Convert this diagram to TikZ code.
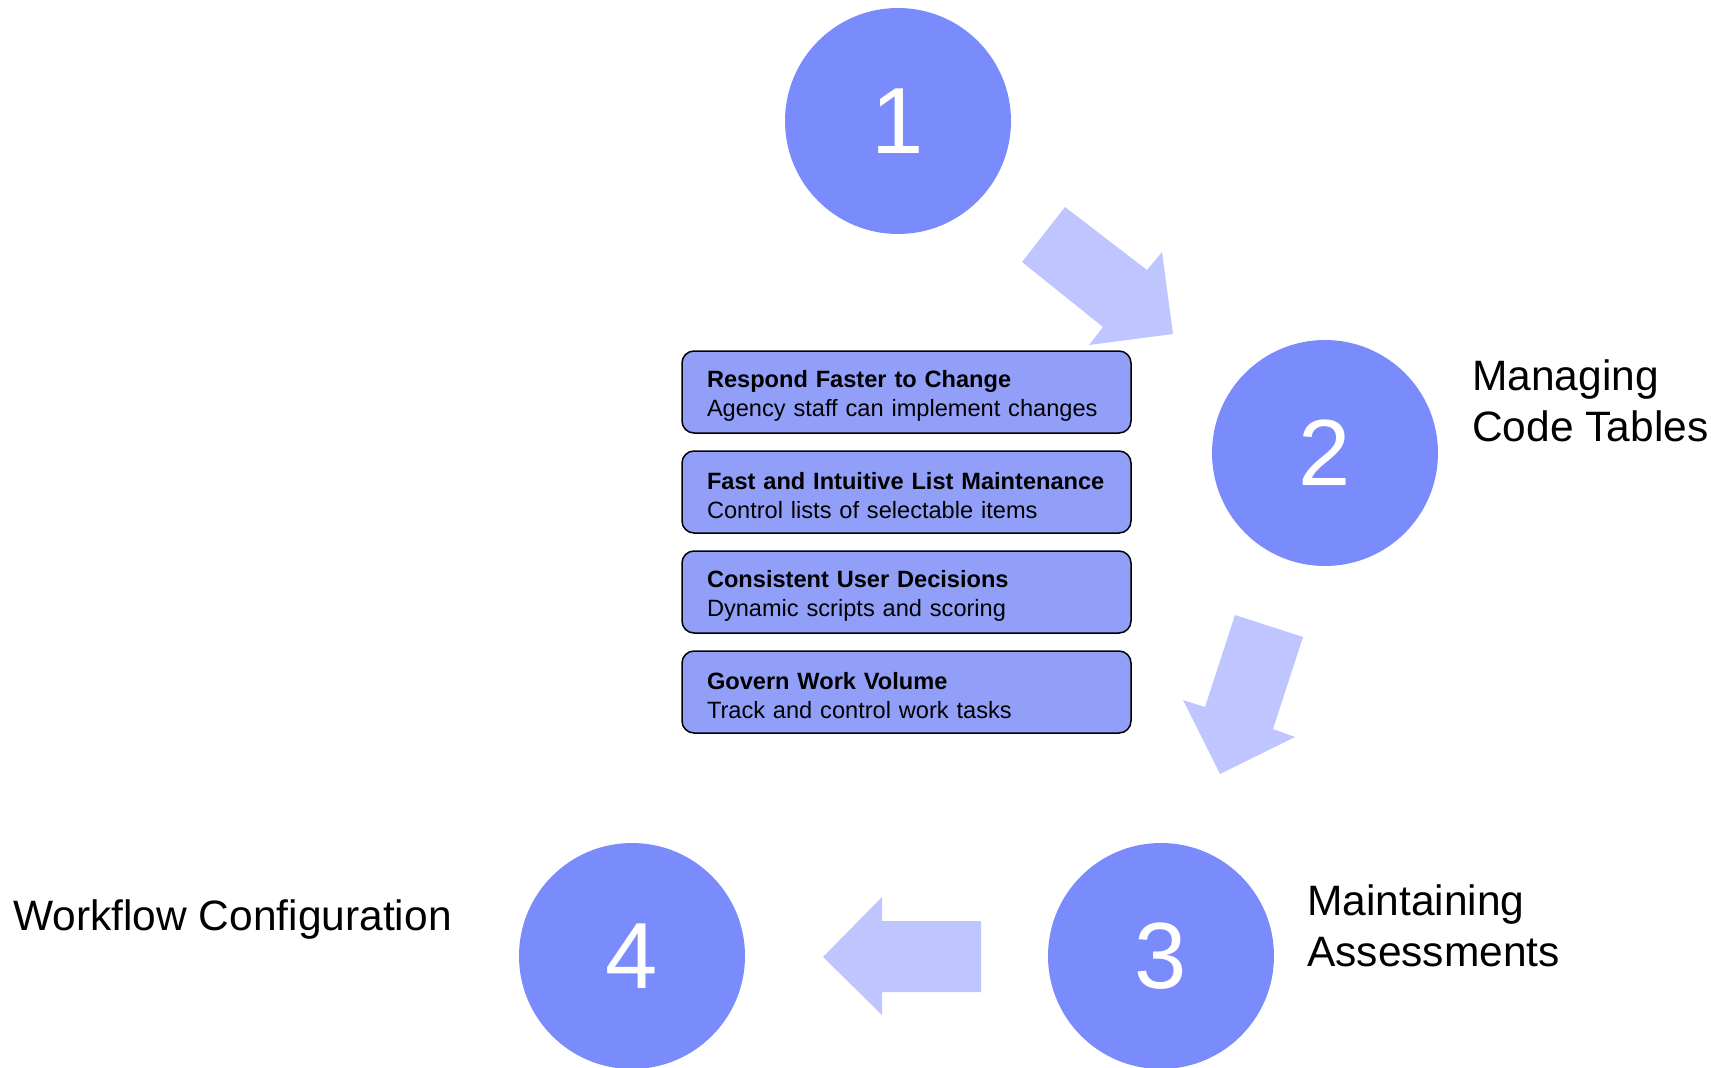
\documentclass[tikz,border=0pt]{standalone}
\usepackage{fontspec}
\setmainfont{Liberation Sans}
\usetikzlibrary{positioning}
\definecolor{stepblue}{RGB}{122,140,252}
\definecolor{boxblue}{RGB}{146,159,249}
\definecolor{arrowblue}{RGB}{191,198,255}
\newcommand{\boxtext}[2]{\rule{0pt}{24pt}\mbox{\textbf{#1}}\\\mbox{#2}}

\begin{document}
\begin{tikzpicture}[
		x=1pt, y=-1pt,
		stepdisc/.style={circle,fill=stepblue,minimum size=226pt,inner sep=0pt,
			text=white,font=\fontsize{94}{94}\selectfont},
		panel/.style={draw=black,line width=1.5pt,rounded corners=12pt,fill=boxblue,
			minimum width=449pt,minimum height=82pt,text width=399pt,inner xsep=25pt,
			align=left,font=\fontsize{23.6}{29}\selectfont},
		steplabel/.style={inner sep=0pt,align=left,font=\fontsize{42.5}{51}\selectfont},
		bigarrow/.style={fill=arrowblue},
		node distance=16.5pt
	]
		\useasboundingbox (0,0) rectangle (1711,1068);
		% numbered steps
		\node[stepdisc] (one) at (898,121) {1};
		\node[stepdisc] (two) at (1325,453) {2};
		\node[stepdisc] (three) at (1161,956) {3};
		\node[stepdisc] (four) at (632,956) {4};
		% step labels
		\node[steplabel,anchor=north west] (twolabel) at (1472,359) {Managing\\Code Tables};
		\node[steplabel,anchor=north west] (threelabel) at (1307,884) {Maintaining\\Assessments};
		\node[steplabel,anchor=base west] (fourlabel) at (13,930) {Workflow Configuration};
		% block arrows
		\fill[bigarrow] (1065,207) -- (1147,270) -- (1162,252) -- (1173,334)
			-- (1089,345) -- (1103,327) -- (1022,262) -- cycle;
		\fill[bigarrow] (1235,615) -- (1303,637) -- (1273,729) -- (1295,737)
			-- (1220,774) -- (1183,700) -- (1205,707) -- cycle;
		\fill[bigarrow] (981,921) -- (981,992) -- (882,992) -- (882,1015)
			-- (823,957) -- (882,897) -- (882,921) -- cycle;
		% benefit panels
		\node[panel] (respond) at (906.5,392)
			{\boxtext{Respond Faster to Change}{Agency staff can implement changes}};
		\node[panel,below=of respond] (lists)
			{\boxtext{Fast and Intuitive List Maintenance}{Control lists of selectable items}};
		\node[panel,below=of lists] (decisions)
			{\boxtext{Consistent User Decisions}{Dynamic scripts and scoring}};
		\node[panel,below=of decisions] (volume)
			{\boxtext{Govern Work Volume}{Track and control work tasks}};
	\end{tikzpicture}
\end{document}
